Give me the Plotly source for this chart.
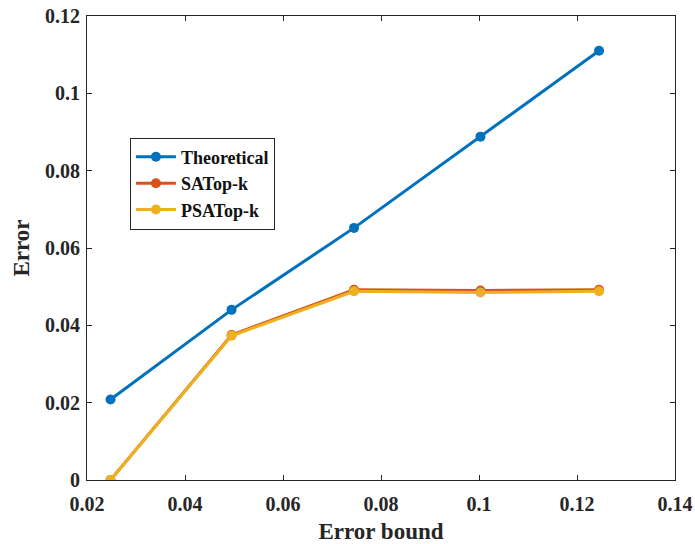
import plotly.graph_objects as go

# Error bound settings and measured errors
error_bound = [0.0248, 0.0495, 0.0745, 0.1003, 0.1245]
theoretical = [0.0208, 0.0440, 0.0652, 0.0888, 0.1110]
satopk = [0.0000, 0.0375, 0.0492, 0.0490, 0.0492]
psatopk = [0.0000, 0.0373, 0.0488, 0.0485, 0.0488]

series = [
    ("Theoretical", theoretical, "#0072BD"),
    ("SATop-k", satopk, "#D95319"),
    ("PSATop-k", psatopk, "#EDB120"),
]

font_family = "Liberation Serif, Times New Roman, serif"

fig = go.Figure()
for name, values, color in series:
    fig.add_trace(go.Scatter(
        x=error_bound, y=values, name="<b>" + name + "</b>", mode="lines+markers",
        line=dict(color=color, width=3),
        marker=dict(color=color, size=10, symbol="circle"),
    ))

axis_common = dict(
    showline=True, linecolor="#262626", linewidth=1, mirror="ticks",
    ticks="inside", ticklen=5, tickcolor="#262626", showgrid=False,
    zeroline=False, automargin=False,
    tickprefix="<b>", ticksuffix="</b>",
    tickfont=dict(family=font_family, size=20, color="#262626"),
)

fig.update_layout(
    width=695, height=544,
    margin=dict(l=87, r=20, t=16, b=64),
    paper_bgcolor="white", plot_bgcolor="white",
    font=dict(family=font_family, color="#262626"),
    xaxis=dict(range=[0.02, 0.14], dtick=0.02, tick0=0.02,
               ticklabelstandoff=6,
               title=dict(text="<b>Error bound</b>", standoff=8,
                          font=dict(family=font_family, size=23, color="#262626")),
               **axis_common),
    yaxis=dict(range=[0, 0.12], dtick=0.02, tick0=0,
               ticklabelstandoff=2,
               title=dict(text="<b>Error</b>", standoff=8,
                          font=dict(family=font_family, size=23, color="#262626")),
               **axis_common),
    legend=dict(x=0.073, y=0.738, xanchor="left", yanchor="top",
                bgcolor="white", bordercolor="#262626", borderwidth=1,
                font=dict(family=font_family, size=18, color="#111111"),
                tracegroupgap=0, itemwidth=40),
    showlegend=True,
)

fig.write_html("out.html")
